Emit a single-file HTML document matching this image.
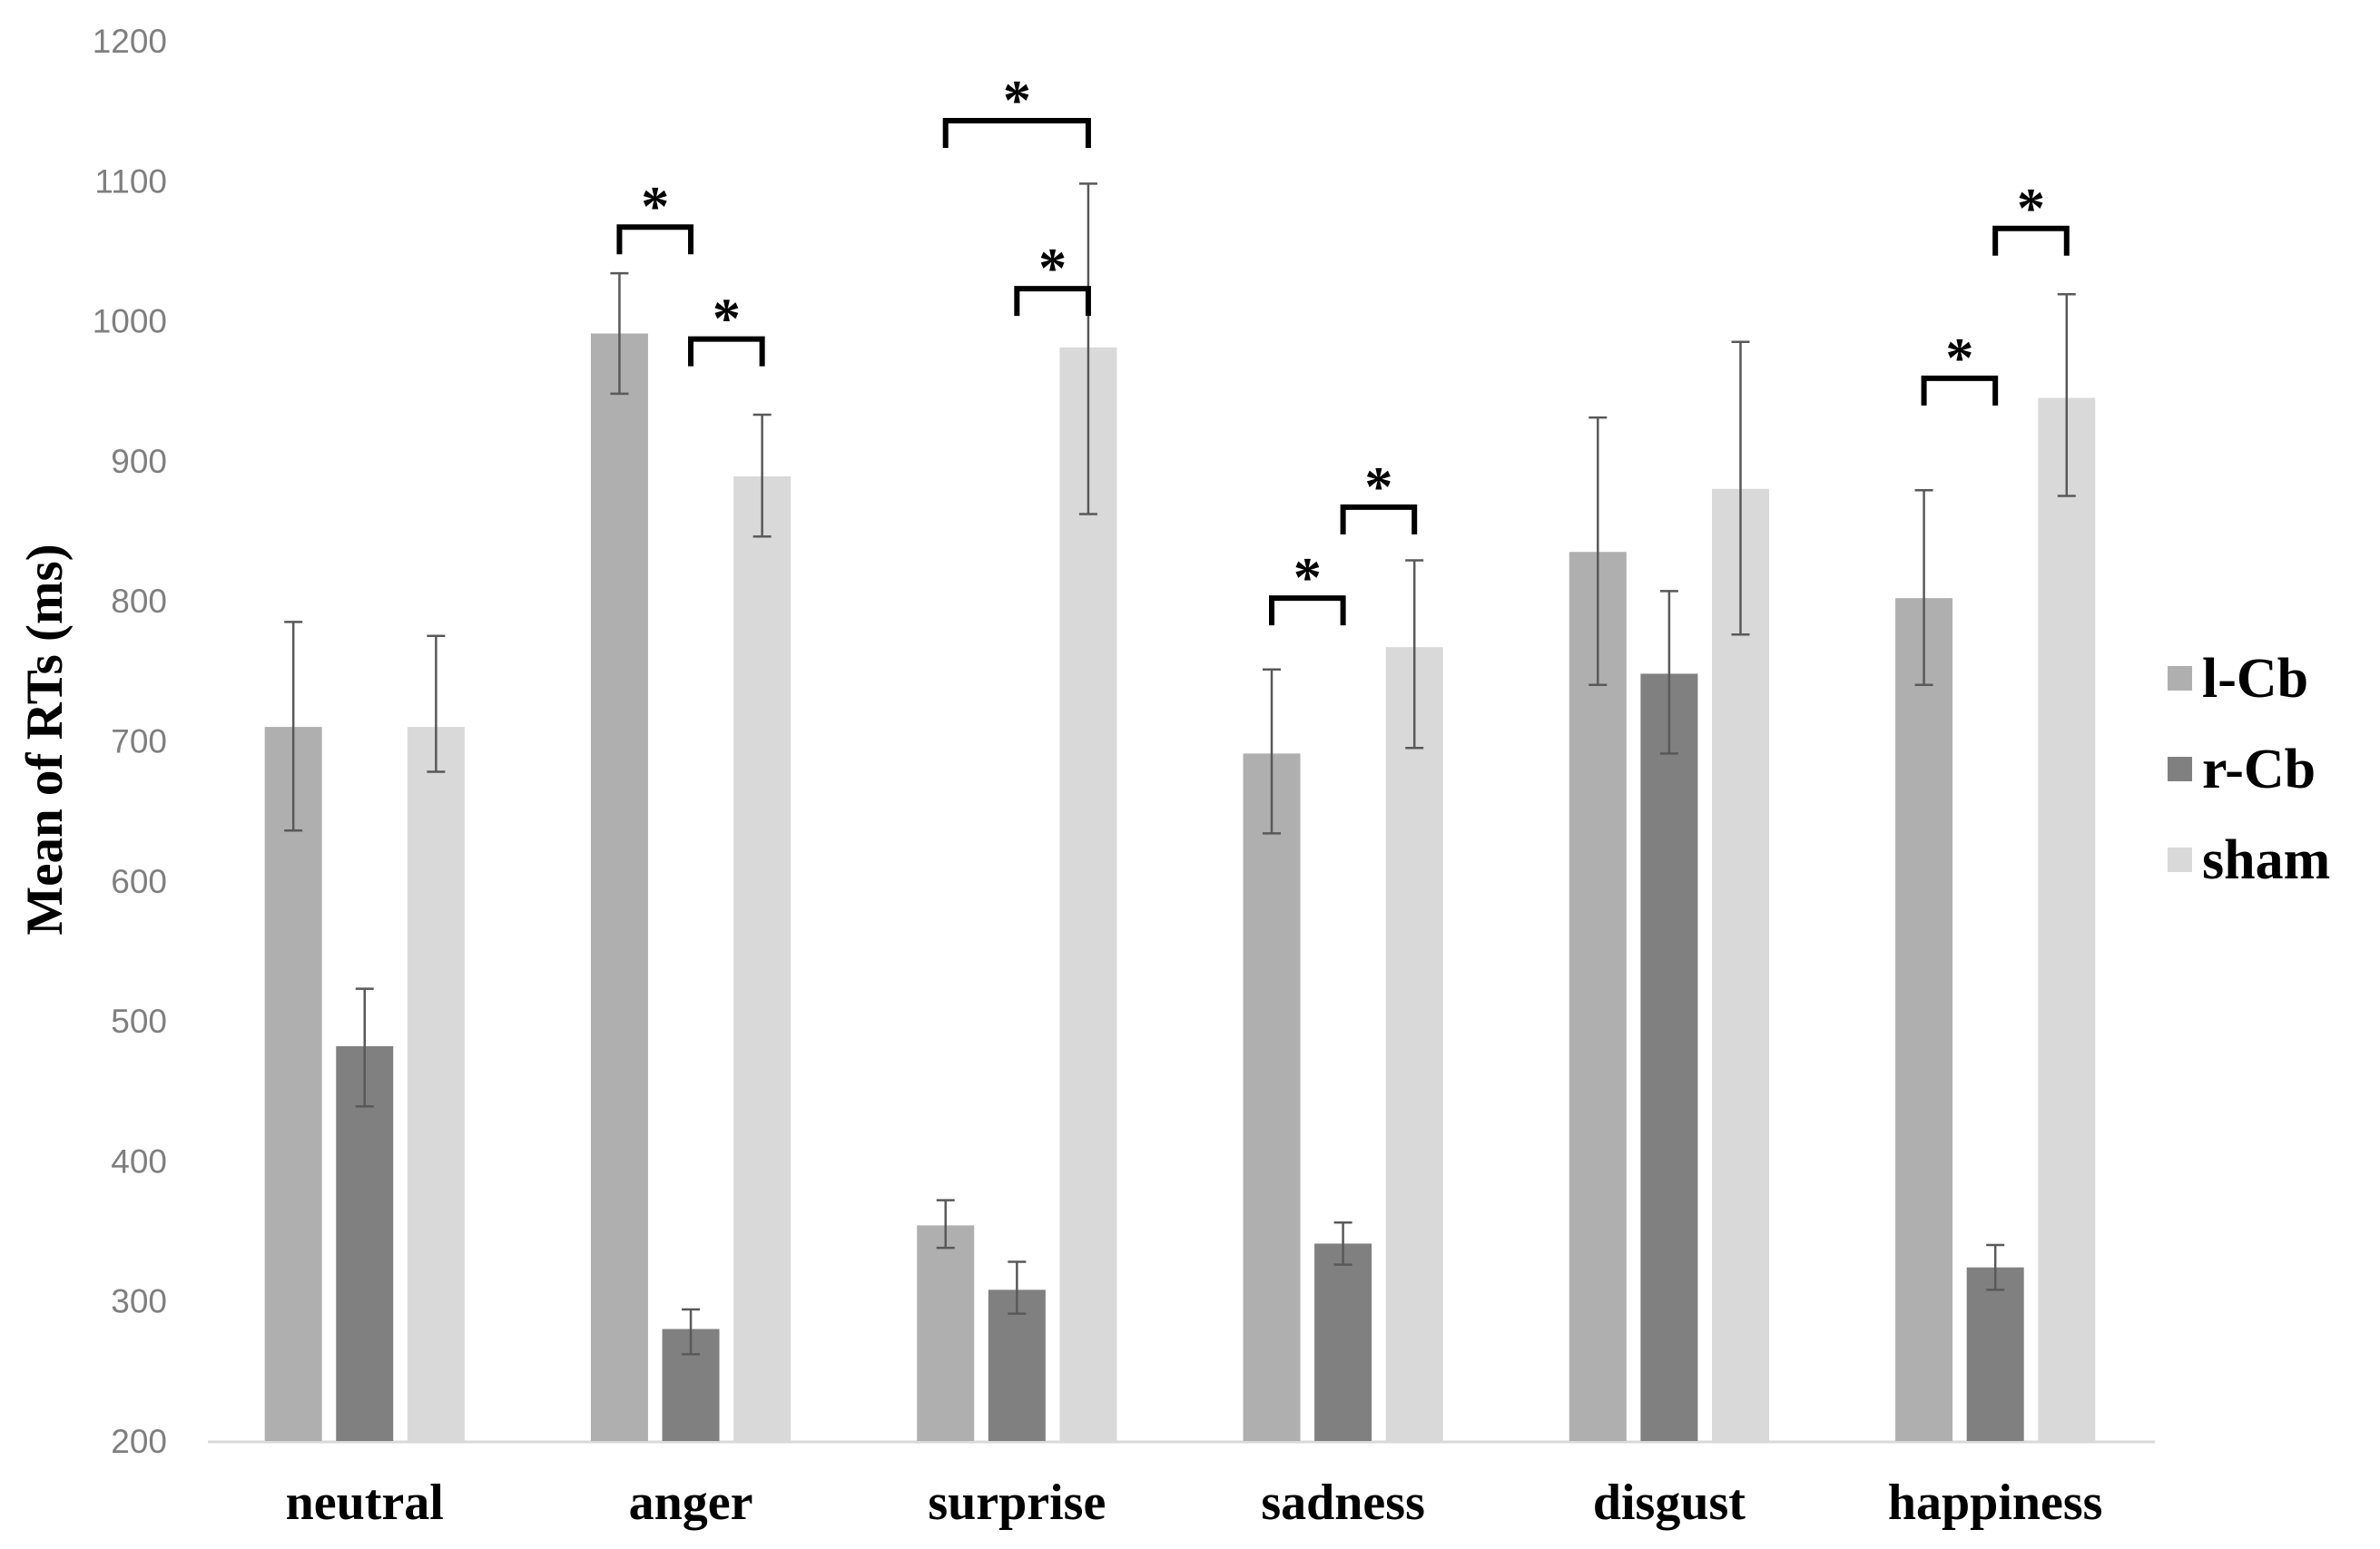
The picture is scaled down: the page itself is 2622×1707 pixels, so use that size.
<!DOCTYPE html>
<html><head><meta charset="utf-8"><style>
html,body{margin:0;padding:0;background:#fff;}
svg{display:block;}
</style></head><body>
<svg id="chart" width="2622" height="1707" viewBox="0 0 2622 1707" xmlns="http://www.w3.org/2000/svg"></svg>
<script>
const categories = ["neutral","anger","surprise","sadness","disgust","happiness"];
const seriesNames = ["l-Cb","r-Cb","sham"];
const lcbValues = [710, 991, 354, 691, 835, 802];
const rcbValues = [482, 280, 308, 341, 748, 324];
const shamValues = [710, 889, 981, 767, 880, 945];
const lcbErrHi = [785, 1034, 372, 751, 931, 879];
const lcbErrLo = [636, 948, 338, 634, 740, 740];
const rcbErrHi = [523, 294, 328, 356, 807, 340];
const rcbErrLo = [439, 262, 291, 326, 691, 308];
const shamErrHi = [775, 933, 1098, 829, 985, 1019];
const shamErrLo = [678, 846, 862, 695, 776, 875];
const yTicks = [200,300,400,500,600,700,800,900,1000,1100,1200];
// significance brackets: category index, from series, to series, bracket level (ms)
const bracketCats = [1,1,2,2,3,3,5,5];
const bracketFrom = [0,1,0,1,0,1,0,1];
const bracketTo = [1,2,2,2,1,2,1,2];
const bracketLevel = [1067,987,1143,1023,802,867,959,1066];

const colors = ["#afafaf","#808080","#d9d9d9"];
const NS="http://www.w3.org/2000/svg";
const svg=document.getElementById('chart');
const x0=229, x1=2374, yBase=1588, pxPer=1.543;
const catW=(x1-x0)/categories.length;
const catStep=catW*1.005;
const barW=63, off=[-78.6,0,78.6];
function yS(v){return yBase-(v-200)*pxPer;}
function xC(i){return x0+catW*0.5-6+catStep*i;}
function mk(t,a,txt){const e=document.createElementNS(NS,t);for(const k in a)e.setAttribute(k,a[k]);if(txt!==undefined)e.textContent=txt;svg.appendChild(e);return e;}

yTicks.forEach(t=>{
  const e=mk('text',{x:184,y:yS(t)+13,'text-anchor':'end','font-family':'Liberation Sans, sans-serif','font-size':37,fill:'#7f7f7f'},String(t));
  
  
});
const ax=mk('line',{x1:x0,y1:yBase+1,x2:x1,y2:yBase+1,stroke:'#d9d9d9','stroke-width':3});



const vals=[lcbValues,rcbValues,shamValues];
const his=[lcbErrHi,rcbErrHi,shamErrHi];
const los=[lcbErrLo,rcbErrLo,shamErrLo];
categories.forEach((c,i)=>{
  for(let s=0;s<3;s++){
    const cx=xC(i)+off[s];
    const b=mk('rect',{x:cx-barW/2,y:yS(vals[s][i]),width:barW,height:yBase-yS(vals[s][i]),fill:colors[s]});
    
    
    const g=document.createElementNS(NS,'g');
    g.setAttribute('stroke','#595959');g.setAttribute('stroke-width','2.5');
    
    
    svg.appendChild(g);
    const yh=yS(his[s][i]), yl=yS(los[s][i]);
    [[cx,yh,cx,yl],[cx-10,yh,cx+10,yh],[cx-10,yl,cx+10,yl]].forEach(p=>{
      const l=document.createElementNS(NS,'line');
      l.setAttribute('x1',p[0]);l.setAttribute('y1',p[1]);l.setAttribute('x2',p[2]);l.setAttribute('y2',p[3]);
      g.appendChild(l);
    });
  }
  const t=mk('text',{x:xC(i),y:1674,'text-anchor':'middle','font-family':'Liberation Serif, serif','font-weight':'bold','font-size':56,fill:'#000'},c);
  
  
});

bracketCats.forEach((ci,k)=>{
  const xa=xC(ci)+off[bracketFrom[k]], xb=xC(ci)+off[bracketTo[k]];
  const y=yS(bracketLevel[k]);
  const p=mk('path',{d:`M${xa} ${y+30} L${xa} ${y} L${xb} ${y} L${xb} ${y+30}`,fill:'none',stroke:'#000','stroke-width':6});
  
  
  const s=mk('text',{x:(xa+xb)/2,y:y-2,'text-anchor':'middle','font-family':'Liberation Serif, serif','font-weight':'bold','font-size':62,fill:'#000'},'*');
  
  
});

const yt=mk('text',{x:0,y:0,transform:'translate(68,815) rotate(-90)','text-anchor':'middle','font-family':'Liberation Serif, serif','font-weight':'bold','font-size':57,fill:'#000'},'Mean of RTs (ms)');



const legY=[748,848,948];
seriesNames.forEach((n,s)=>{
  const r=mk('rect',{x:2388,y:legY[s]-14,width:27,height:27,fill:colors[s]});
  
  
  const t=mk('text',{x:2426,y:legY[s]+20,'font-family':'Liberation Serif, serif','font-weight':'bold','font-size':62,fill:'#000'},n);
  
  
});
</script>
</body></html>
